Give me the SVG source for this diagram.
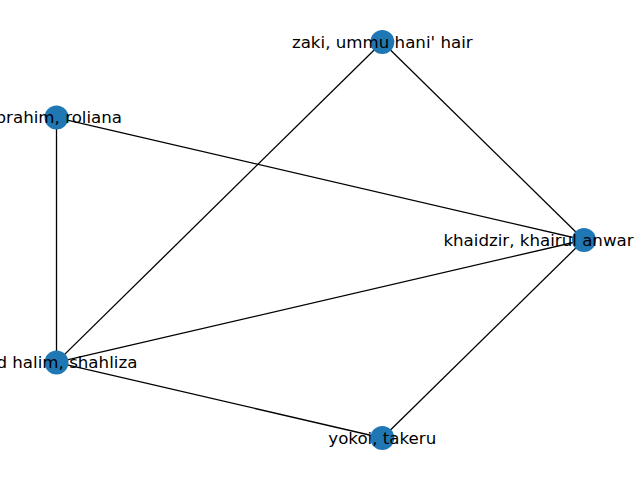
<svg xmlns="http://www.w3.org/2000/svg" width="640" height="480" viewBox="0 0 640 480">
<style>
.edge{stroke:#000;stroke-width:1.3;fill:none}
.node circle{fill:#1f77b4}
.node text{font-family:"DejaVu Sans",sans-serif;font-size:16.67px;fill:#000;text-anchor:middle;dominant-baseline:central}
</style>
<rect width="640" height="480" fill="#fff"/>
<g id="connectors">
<line class="edge" x1="382.3" y1="42" x2="584" y2="240"/>
<line class="edge" x1="382.3" y1="42" x2="56.5" y2="362.4"/>
<line class="edge" x1="56.5" y1="117.6" x2="584" y2="240"/>
<line class="edge" x1="56.5" y1="117.6" x2="56.5" y2="362.4"/>
<line class="edge" x1="56.5" y1="362.4" x2="584" y2="240"/>
<line class="edge" x1="56.5" y1="362.4" x2="382.3" y2="438"/>
<line class="edge" x1="382.3" y1="438" x2="584" y2="240"/>
</g>
<g id="n-zaki" class="node"><circle cx="382.3" cy="42" r="12"/><text x="382.3" y="42">zaki, ummu hani' hair</text></g>
<g id="n-ibrahim" class="node"><circle cx="56.5" cy="117.6" r="12"/><text x="56.5" y="117.6">ibrahim, roliana</text></g>
<g id="n-khaidzir" class="node"><circle cx="584" cy="240" r="12"/><text x="538.5" y="240">khaidzir, khairul anwar</text></g>
<g id="n-halim" class="node"><circle cx="56.5" cy="362.4" r="12"/><text x="56.5" y="362.4">abd halim, shahliza</text></g>
<g id="n-yokoi" class="node"><circle cx="382.3" cy="438" r="12"/><text x="382.3" y="438">yokoi, takeru</text></g>
</svg>
